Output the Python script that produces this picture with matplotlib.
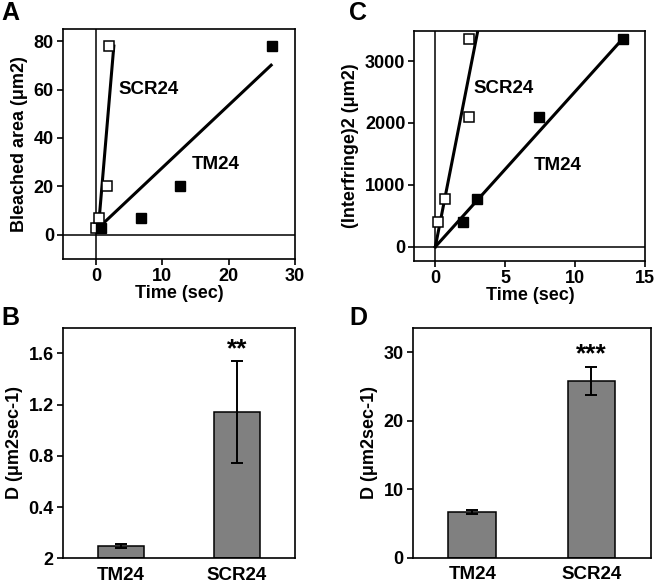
import matplotlib
matplotlib.use("Agg")
import matplotlib.pyplot as plt
import numpy as np

plt.rcParams['font.family'] = ['Liberation Sans', 'DejaVu Sans']
plt.rcParams['font.weight'] = 'bold'
plt.rcParams['axes.labelweight'] = 'bold'

# panel A: bleached area vs time
a_scr_t = [0.0, 0.5, 1.7, 1.9]
a_scr_area = [3, 7, 20, 78]
a_tm_t = [0.75, 6.8, 12.6, 26.5]
a_tm_area = [3, 7, 20, 78]
# fitted lines: slope, intercept, x start, x end
a_scr_fit = [32.3, -8.3, 0.35, 2.67]
a_tm_fit = [2.58, 1.95, 0.6, 26.4]

# panel C: (interfringe)^2 vs time
c_scr_t = [0.21, 0.69, 2.4, 2.38]
c_scr_val = [404, 770, 2100, 3360]
c_tm_t = [2.0, 2.95, 7.4, 13.4]
c_tm_val = [404, 770, 2100, 3360]
c_scr_fit = [1150, 0, 0, 3.03]
c_tm_fit = [251, 0, 0, 13.5]

# panels B and D: diffusion coefficients
groups = ['TM24', 'SCR24']
b_mean = [0.095, 1.14]
b_err = [0.015, 0.40]
d_mean = [6.67, 25.8]
d_err = [0.35, 2.1]

TICK_FS = 13
LAB_FS = 13
TXT_FS = 13.5

fig = plt.figure(figsize=(6.56, 5.86), dpi=100)


def style(ax):
    for s in ax.spines.values():
        s.set_linewidth(1.2)
    ax.tick_params(direction='out', length=4, width=1.2, labelsize=TICK_FS, pad=2.5)


def fit_line(ax, fit):
    x = np.array([fit[2], fit[3]])
    ax.plot(x, fit[0] * x + fit[1], color='black', lw=2.2, zorder=2)


# ---- A
axA = fig.add_axes([0.096, 0.558, 0.3537, 0.3925])
style(axA)
axA.axhline(0, color='black', lw=1.1, zorder=1)
axA.axvline(0, color='black', lw=1.1, zorder=1)
fit_line(axA, a_scr_fit)
fit_line(axA, a_tm_fit)
axA.plot(a_scr_t, a_scr_area, 's', mfc='white', mec='black', ms=7, mew=1.1, zorder=3)
axA.plot(a_tm_t, a_tm_area, 's', mfc='black', mec='black', ms=7, zorder=3)
axA.set_xlim(-5, 30)
axA.set_ylim(-10, 85)
axA.set_xticks([0, 10, 20, 30])
axA.set_yticks([0, 20, 40, 60, 80])
axA.text(3.3, 60, 'SCR24', fontsize=TXT_FS, va='center', ha='left')
axA.text(14.4, 29, 'TM24', fontsize=TXT_FS, va='center', ha='left')
axA.set_xlabel('Time (sec)', fontsize=LAB_FS, labelpad=0)
axA.set_ylabel('Bleached area (μm2)', fontsize=LAB_FS, labelpad=4)

# ---- C
axC = fig.add_axes([0.6316, 0.5546, 0.3521, 0.393])
style(axC)
axC.axhline(0, color='black', lw=1.1, zorder=1)
axC.axvline(0, color='black', lw=1.1, zorder=1)
fit_line(axC, c_scr_fit)
fit_line(axC, c_tm_fit)
axC.plot(c_scr_t, c_scr_val, 's', mfc='white', mec='black', ms=7, mew=1.1, zorder=3)
axC.plot(c_tm_t, c_tm_val, 's', mfc='black', mec='black', ms=7, zorder=3)
axC.set_xlim(-1.5, 15)
axC.set_ylim(-230, 3490)
axC.set_xticks([0, 5, 10, 15])
axC.set_yticks([0, 1000, 2000, 3000])
axC.text(2.76, 2560, 'SCR24', fontsize=TXT_FS, va='center', ha='left')
axC.text(7.05, 1310, 'TM24', fontsize=TXT_FS, va='center', ha='left')
axC.set_xlabel('Time (sec)', fontsize=LAB_FS, labelpad=0)
axC.set_ylabel('(Interfringe)2 (μm2)', fontsize=LAB_FS, labelpad=4)


def bars(ax, mean, err, stars, ylim, yticks, yticklabels):
    style(ax)
    x = np.arange(len(groups))
    ax.bar(x, mean, width=0.4, color='#808080', edgecolor='black', linewidth=1.1, zorder=2)
    ax.errorbar(x, mean, yerr=err, fmt='none', ecolor='black', elinewidth=1.4,
                capsize=4, capthick=1.4, zorder=3)
    ax.set_xlim(-0.5, 1.5)
    ax.set_ylim(*ylim)
    ax.set_xticks(x)
    ax.set_xticklabels(groups, fontsize=TXT_FS)
    ax.tick_params(axis='x', length=0, pad=6)
    ax.set_yticks(yticks)
    ax.set_yticklabels(yticklabels)
    ax.text(1, mean[1] + err[1], stars, fontsize=19, ha='center', va='bottom')
    ax.set_ylabel('D (μm2sec-1)', fontsize=LAB_FS, labelpad=4)


# ---- B
axB = fig.add_axes([0.0956, 0.0473, 0.3537, 0.3935])
bars(axB, b_mean, b_err, '**', (0, 1.8), [0, 0.4, 0.8, 1.2, 1.6], ['2', '0.4', '0.8', '1.2', '1.6'])

# ---- D
axD = fig.add_axes([0.6291, 0.0483, 0.3633, 0.3925])
bars(axD, d_mean, d_err, '***', (0, 33.6), [0, 10, 20, 30], ['0', '10', '20', '30'])

for lbl, (x, y) in zip('ABCD', [(0.002, 0.998), (0.002, 0.478), (0.532, 0.998), (0.532, 0.478)]):
    fig.text(x, y, lbl, fontsize=18, fontweight='bold', va='top', ha='left')

fig.savefig('out.png', dpi=100)
